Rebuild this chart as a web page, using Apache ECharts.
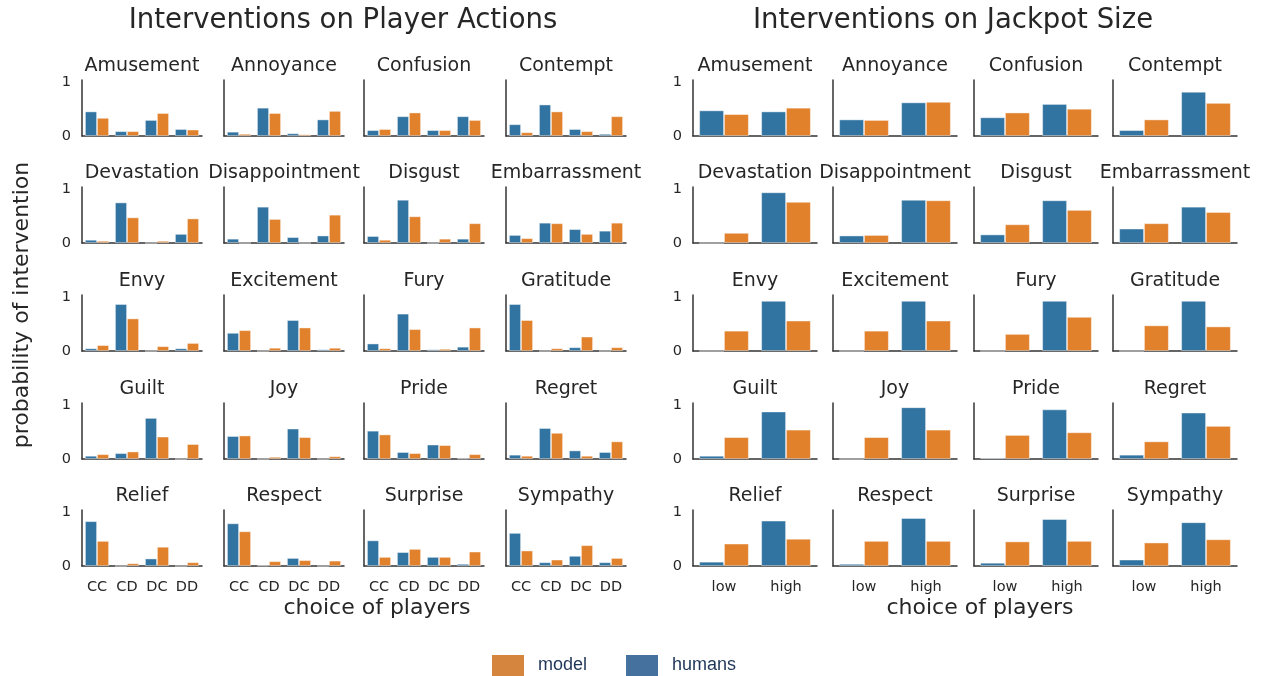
<!DOCTYPE html>
<html>
<head>
<meta charset="utf-8">
<script src="https://cdn.jsdelivr.net/npm/echarts@6/dist/echarts.min.js"></script>
<style>
    html,body{margin:0;padding:0;background:#fff;}
    #container{width:1261px;height:676px;}
</style>
</head>
<body>
<div id="container"></div>
<script>
    // emotions, one panel each (row by row)
    var emotions = ['Amusement','Annoyance','Confusion','Contempt',
        'Devastation','Disappointment','Disgust','Embarrassment',
        'Envy','Excitement','Fury','Gratitude',
        'Guilt','Joy','Pride','Regret',
        'Relief','Respect','Surprise','Sympathy'];
    var actionCats = ['CC','CD','DC','DD'];
    var jackpotCats = ['low','high'];
    var yTicks = [0, 1];

    // player actions: humans / model, values for CC CD DC DD
    var actionHumans = [
        [0.46,0.09,0.30,0.13],[0.08,0.53,0.05,0.31],[0.11,0.37,0.11,0.37],[0.22,0.59,0.13,0.04],
        [0.06,0.76,0,0.17],[0.08,0.68,0.11,0.14],[0.13,0.81,0,0.08],[0.15,0.38,0.26,0.23],
        [0.05,0.88,0,0.05],[0.34,0,0.58,0.03],[0.14,0.70,0.03,0.08],[0.88,0,0.07,0],
        [0.06,0.11,0.77,0],[0.43,0,0.57,0],[0.53,0.13,0.27,0.01],[0.08,0.58,0.16,0.13],
        [0.84,0,0.14,0],[0.80,0.01,0.15,0],[0.48,0.26,0.17,0.04],[0.62,0.07,0.19,0.07]
    ];
    var actionModel = [
        [0.34,0.09,0.43,0.12],[0.04,0.43,0.03,0.47],[0.13,0.44,0.11,0.30],[0.07,0.46,0.09,0.37],
        [0.04,0.48,0.04,0.46],[0,0.45,0,0.53],[0.06,0.50,0.08,0.37],[0.09,0.37,0.17,0.38],
        [0.11,0.61,0.09,0.15],[0.39,0.06,0.44,0.06],[0.05,0.41,0.04,0.44],[0.58,0.05,0.27,0.07],
        [0.09,0.14,0.42,0.28],[0.44,0.04,0.41,0.05],[0.46,0.11,0.26,0.09],[0.06,0.49,0.06,0.33],
        [0.47,0.05,0.36,0.07],[0.65,0.09,0.11,0.10],[0.17,0.32,0.17,0.27],[0.29,0.12,0.39,0.15]
    ];
    // jackpot size: humans / model, values for low high
    var jackpotHumans = [
        [0.48,0.46],[0.31,0.63],[0.35,0.60],[0.11,0.83],
        [0,0.95],[0.14,0.81],[0.16,0.80],[0.27,0.68],
        [0,0.94],[0,0.94],[0,0.94],[0,0.94],
        [0.06,0.89],[0,0.97],[0.02,0.93],[0.08,0.87],
        [0.08,0.85],[0.04,0.90],[0.06,0.88],[0.12,0.82]
    ];
    var jackpotModel = [
        [0.41,0.53],[0.30,0.64],[0.44,0.51],[0.31,0.62],
        [0.19,0.77],[0.15,0.80],[0.35,0.62],[0.37,0.58],
        [0.38,0.57],[0.38,0.57],[0.32,0.64],[0.48,0.46],
        [0.41,0.55],[0.41,0.55],[0.45,0.50],[0.33,0.62],
        [0.42,0.51],[0.47,0.47],[0.46,0.47],[0.44,0.50]
    ];

    var FONT = 'DejaVu Sans';
    var TXT = '#262626';
    var BLUE = '#3274a1', ORANGE = '#e1812c';

    var leftX = [82, 224, 364, 506];
    var rightX = [693, 833, 974, 1113];
    var baseY = [136, 243, 351, 459, 566];
    var panelH = 56;

    var grids = [], xAxes = [], yAxes = [], series = [], graphics = [];

    function addBlock(colX, width, cats, humans, model) {
        for (var i = 0; i < emotions.length; i++) {
            var row = Math.floor(i / 4), col = i % 4;
            var gi = grids.length;
            grids.push({left: colX[col], top: baseY[row] - panelH, width: width, height: panelH});
            xAxes.push({
                type: 'category', gridIndex: gi, data: cats,
                axisLine: {show: true, lineStyle: {color: '#333', width: 1.5}},
                axisTick: {show: false},
                axisLabel: {show: row === 4, color: TXT, fontFamily: FONT, fontSize: 14.5, margin: 14}
            });
            yAxes.push({
                type: 'value', gridIndex: gi, min: 0, max: 1.05, interval: 1,
                axisLine: {show: true, lineStyle: {color: '#333', width: 1.5}},
                axisTick: {show: false},
                splitLine: {show: false},
                axisLabel: {
                    show: col === 0, color: TXT, fontFamily: FONT, fontSize: 14.5, margin: 11,
                    formatter: function (v) { return yTicks.indexOf(v) >= 0 ? String(v) : ''; }
                }
            });
            series.push({
                name: 'humans', type: 'bar', xAxisIndex: gi, yAxisIndex: gi,
                data: humans[i], barWidth: '40%', barGap: '0%',
                itemStyle: {color: BLUE, borderColor: 'rgba(255,255,255,0.55)', borderWidth: 0.8},
                animation: false
            });
            series.push({
                name: 'model', type: 'bar', xAxisIndex: gi, yAxisIndex: gi,
                data: model[i], barWidth: '40%', barGap: '0%',
                itemStyle: {color: ORANGE, borderColor: 'rgba(255,255,255,0.55)', borderWidth: 0.8},
                animation: false
            });
            graphics.push(txt(emotions[i], colX[col] + width / 2, baseY[row] - 70, 19));
        }
    }

    function txt(s, x, y, size, rot) {
        return {
            type: 'text', x: x, y: y, rotation: rot || 0,
            style: {text: s, fill: TXT, font: size + 'px "' + FONT + '"',
                align: 'center', verticalAlign: 'middle',
                textAlign: 'center', textVerticalAlign: 'middle'}
        };
    }

    addBlock(leftX, 120, actionCats, actionHumans, actionModel);
    addBlock(rightX, 124, jackpotCats, jackpotHumans, jackpotModel);

    graphics.push(txt('Interventions on Player Actions', 343, 21, 27.5));
    graphics.push(txt('Interventions on Jackpot Size', 953, 21, 27.5));
    graphics.push(txt('choice of players', 377, 608, 22));
    graphics.push(txt('choice of players', 980, 608, 22));
    graphics.push(txt('probability of intervention', 22, 305, 22, Math.PI / 2));

    var myChart = echarts.init(document.getElementById('container'));
    var option = {
        backgroundColor: '#ffffff',
        animation: false,
        grid: grids,
        xAxis: xAxes,
        yAxis: yAxes,
        series: series,
        graphic: graphics,
        legend: {
            left: 492, top: 655, padding: 0,
            itemWidth: 32, itemHeight: 21, itemGap: 39,
            icon: 'rect',
            textStyle: {color: '#1f3557', fontFamily: 'Liberation Sans', fontSize: 18, padding: [0, 0, 0, 9]},
            data: [
                {name: 'model', itemStyle: {color: '#d6853f', borderWidth: 0}},
                {name: 'humans', itemStyle: {color: '#44719e', borderWidth: 0}}
            ]
        }
    };
    myChart.setOption(option);
</script>
</body>
</html>
